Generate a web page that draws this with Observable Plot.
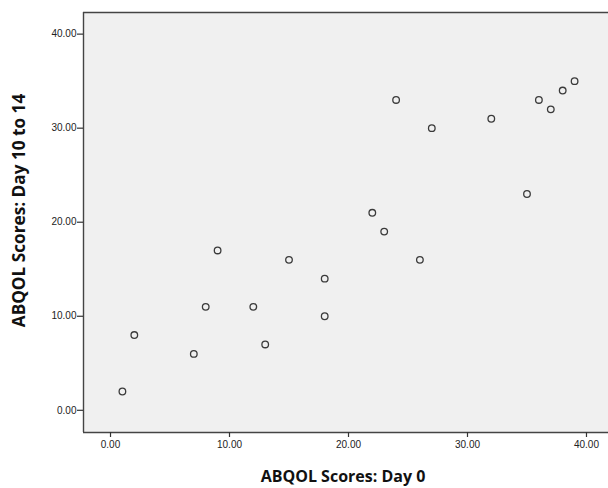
<!DOCTYPE html>
<html>
<head>
<meta charset="utf-8">
<script src="https://cdn.jsdelivr.net/npm/d3@7"></script>
<script src="https://cdn.jsdelivr.net/npm/@observablehq/plot@0.6"></script>
<style>
  html, body { margin: 0; padding: 0; background: #ffffff; }
  #chart { width: 608px; height: 488px; overflow: hidden; }
</style>
</head>
<body>
<div id="chart"></div>
<script>
const day0 = [1, 2, 7, 8, 9, 12, 13, 15, 18, 18, 22, 23, 24, 26, 27, 32, 35, 36, 37, 38, 39];
const day10to14 = [2, 8, 6, 11, 17, 11, 7, 16, 14, 10, 21, 19, 33, 16, 30, 31, 23, 33, 32, 34, 35];
const xTicks = [0, 10, 20, 30, 40];
const yTicks = [0, 10, 20, 30, 40];
const xTitle = "ABQOL Scores: Day 0";
const yTitle = "ABQOL Scores: Day 10 to 14";

const xDomain = [-2.27, 41.85];
const yDomain = [-2.36, 42.3];

const data = day0.map((d, i) => ({x: d, y: day10to14[i]}));
const fmt = d3.format(".2f");
const tickFont = "Liberation Sans, Arial, sans-serif";
const titleFont = "Open Sans, sans-serif";

const chart = Plot.plot({
  width: 608,
  height: 488,
  marginLeft: 83,
  marginTop: 12,
  marginBottom: 56,
  marginRight: 0,
  style: {background: "#ffffff", fontFamily: tickFont},
  x: {domain: xDomain, axis: null},
  y: {domain: yDomain, axis: null},
  marks: [
    Plot.frame({fill: "#f0f0f0", stroke: "none"}),
    Plot.ruleX([xDomain[0]], {stroke: "#444", strokeWidth: 1.4}),
    Plot.ruleY([yDomain[0]], {stroke: "#444", strokeWidth: 1.4}),
    Plot.ruleY([yDomain[1]], {stroke: "#444", strokeWidth: 1.4}),
    Plot.axisX({anchor: "bottom", ticks: xTicks, tickFormat: fmt, tickSize: 5, tickPadding: 3,
      fontSize: 10, fill: "#222", stroke: "#333", strokeWidth: 1.2, label: null}),
    Plot.axisY({anchor: "left", ticks: yTicks, tickFormat: fmt, tickSize: 6, tickPadding: 1,
      fontSize: 10, fill: "#222", stroke: "#333", strokeWidth: 1.2, label: null}),
    Plot.dot(data, {x: "x", y: "y", r: 3.3, stroke: "#3a3a3a", strokeWidth: 1.3, fill: "none"}),
    Plot.text([xTitle], {frameAnchor: "bottom", text: d => d, dx: -3, dy: 44.5, lineAnchor: "middle",
      textAnchor: "middle", fontSize: 16, fontWeight: "bold", fontFamily: titleFont, fill: "#111"}),
    Plot.text([yTitle], {frameAnchor: "left", text: d => d, dx: -64.5, dy: -12, rotate: -90,
      lineAnchor: "middle", textAnchor: "middle", fontSize: 17.2, fontWeight: "bold",
      fontFamily: titleFont, fill: "#111"})
  ]
});
document.getElementById("chart").appendChild(chart);
</script>
</body>
</html>
